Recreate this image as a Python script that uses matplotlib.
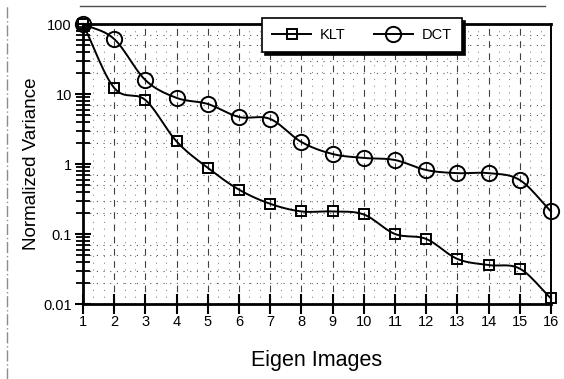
import numpy as np
import matplotlib
matplotlib.use("Agg")
import matplotlib.pyplot as plt
from matplotlib.ticker import FixedLocator, FixedFormatter, NullFormatter
from matplotlib.lines import Line2D

plt.rcParams['font.family'] = ['Liberation Sans', 'DejaVu Sans']

eigen_images = list(range(1, 17))
klt = [100, 12.2, 8.2, 2.1, 0.88, 0.43, 0.27, 0.21, 0.21, 0.19, 0.10, 0.085, 0.044, 0.036, 0.032, 0.012]
dct = [100, 61, 15.8, 8.8, 7.2, 4.7, 4.4, 2.06, 1.39, 1.22, 1.14, 0.82, 0.74, 0.74, 0.59, 0.21]
y_ticks = [0.01, 0.1, 1, 10, 100]
y_tick_labels = ["0.01", "0.1", "1", "10", "100"]
series_names = ["KLT", "DCT"]


def smooth(x, y, n=12):
    """Catmull-Rom curve through the points (y in log space)."""
    x = np.asarray(x, float)
    ly = np.log10(np.asarray(y, float))
    px = np.concatenate([[2 * x[0] - x[1]], x, [2 * x[-1] - x[-2]]])
    py = np.concatenate([[2 * ly[0] - ly[1]], ly, [2 * ly[-1] - ly[-2]]])
    xs, ys = [], []
    t = np.linspace(0, 1, n, endpoint=False)
    for i in range(1, len(px) - 2):
        for arr, out in ((px, xs), (py, ys)):
            p0, p1, p2, p3 = arr[i - 1], arr[i], arr[i + 1], arr[i + 2]
            out.extend(0.5 * ((2 * p1) + (-p0 + p2) * t +
                              (2 * p0 - 5 * p1 + 4 * p2 - p3) * t ** 2 +
                              (-p0 + 3 * p1 - 3 * p2 + p3) * t ** 3))
    xs.append(x[-1]); ys.append(ly[-1])
    return np.array(xs), 10 ** np.array(ys)


fig = plt.figure(figsize=(5.64, 3.79), dpi=100)
ax = fig.add_axes([83 / 564, 1 - 304 / 379, 468 / 564, 280 / 379])
ax.set_yscale('log')
ax.set_xlim(1, 16)
ax.set_ylim(0.01, 100)

# grid
minor_y = [m * 10.0 ** e for e in range(-2, 2) for m in (2, 3, 5, 7)]
for yy in minor_y:
    ax.axhline(yy, color='0.35', lw=0.8, ls=(0, (1, 5)), zorder=0)
for xx in np.arange(1, 16, 1 / 3):
    if abs(xx - round(xx)) > 1e-6:
        ax.axvline(xx, color='0.45', lw=0.7, ls=(0, (1, 6)), zorder=0)
for xx in eigen_images[1:-1]:
    ax.axvline(xx, color='0.25', lw=0.8, ls=(0, (6, 5)), zorder=0)

# data
sx, sy = smooth(eigen_images, klt)
ax.plot(sx, sy, color='black', lw=1.4, zorder=3, clip_on=False)
ax.plot(eigen_images, klt, ls='none', marker='s', ms=6.5, mfc='none', mec='black',
        mew=1.4, zorder=4, clip_on=False)
sx, sy = smooth(eigen_images, dct)
ax.plot(sx, sy, color='black', lw=1.4, zorder=3, clip_on=False)
ax.plot(eigen_images, dct, ls='none', marker='o', ms=11, mfc='none', mec='black',
        mew=1.4, zorder=4, clip_on=False)

# ticks
ax.yaxis.set_major_locator(FixedLocator(y_ticks))
ax.yaxis.set_major_formatter(FixedFormatter(y_tick_labels))
ax.yaxis.set_minor_locator(FixedLocator([m * 10.0 ** e for e in range(-2, 2) for m in range(2, 10)]))
ax.yaxis.set_minor_formatter(NullFormatter())
ax.xaxis.set_major_locator(FixedLocator(eigen_images))
ax.tick_params(axis='y', which='major', direction='inout', length=12, width=1.5,
               labelsize=10.5, pad=2)
ax.tick_params(axis='y', which='minor', direction='inout', length=10, width=1.3)
ax.tick_params(axis='x', which='major', direction='inout', length=14, width=1.5,
               labelsize=10.5, pad=1)
for side in ['left', 'bottom', 'top']:
    ax.spines[side].set_linewidth(2.0)
ax.spines['right'].set_linewidth(1.4)

ax.set_xlabel('Eigen Images', fontsize=15.5, labelpad=15)
ax.set_ylabel('Normalized Variance', fontsize=13.5, labelpad=2)

handles = [Line2D([], [], color='black', lw=1.4, marker='s', ms=6.5, mfc='none', mew=1.4),
           Line2D([], [], color='black', lw=1.4, marker='o', ms=11, mfc='none', mew=1.4)]
leg = ax.legend(handles, series_names, loc='center', bbox_to_anchor=(0.596, 0.96),
                ncol=2, frameon=True, fancybox=False, fontsize=10.5, handlelength=2.7,
                columnspacing=1.9, borderpad=0.7, handletextpad=0.6,
                shadow={'color': 'black', 'alpha': 1})
leg.get_frame().set_edgecolor('black')
leg.get_frame().set_linewidth(1.2)
leg.get_frame().set_alpha(1)
leg.set_zorder(10)

# scanned page border
fig.add_artist(Line2D([7 / 564, 7 / 564], [0, 1 - 6 / 379], transform=fig.transFigure,
                      color='0.55', lw=1, ls=(0, (8, 2, 1, 2))))
fig.add_artist(Line2D([80 / 564, 545 / 564], [1 - 6 / 379, 1 - 6 / 379],
                      transform=fig.transFigure, color='0.3', lw=1))

fig.savefig('out.png', dpi=100)
